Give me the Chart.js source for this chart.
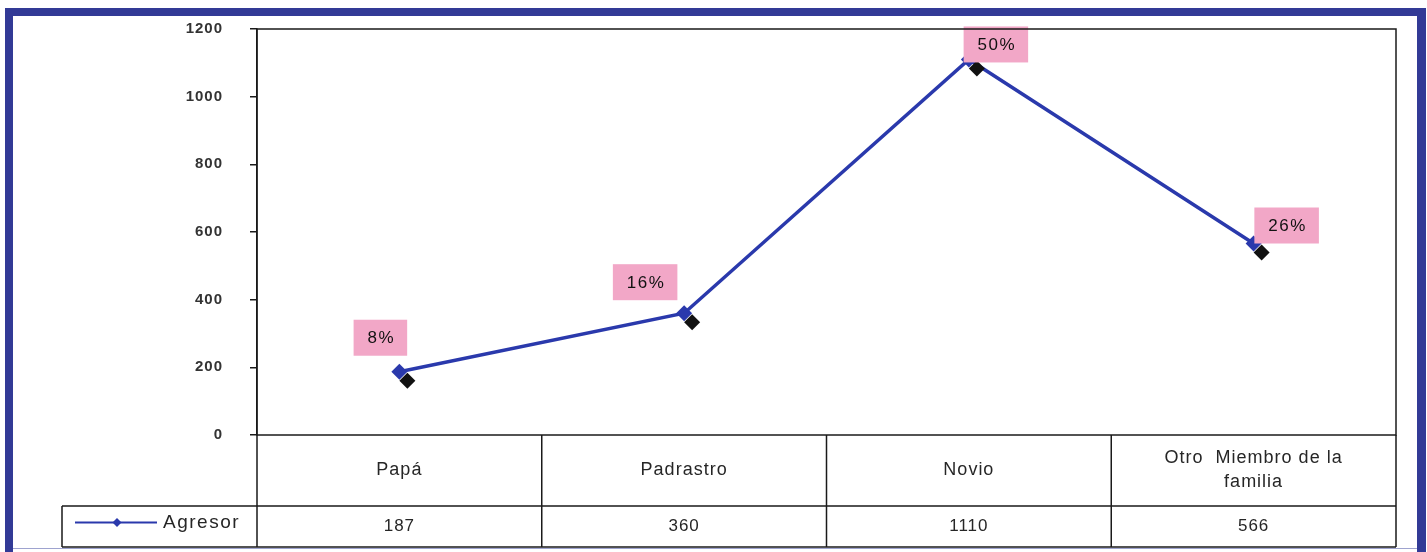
<!DOCTYPE html>
<html>
<head>
<meta charset="utf-8">
<script src="https://cdn.jsdelivr.net/npm/chart.js@4.4.0/dist/chart.umd.min.js"></script>
<style>
    html, body { margin: 0; padding: 0; background: #fff; }
    #wrap { width: 1427px; height: 552px; }
</style>
</head>
<body>
<div id="wrap"><canvas id="agresorChart" width="1427" height="552"></canvas></div>
<script>
// --- Data ---
const categories = ['Papá', 'Padrastro', 'Novio', ['Otro  Miembro de la', 'familia']];
const agresorValues = [187, 360, 1110, 566];
const percentLabels = ['8%', '16%', '50%', '26%'];
const seriesName = 'Agresor';
const yMin = 0;
const yMax = 1200;
const yStep = 200;

// --- Styles ---
const FRAME_BLUE = '#323a96';
const LINE_BLUE = '#2a39ac';
const PINK = '#f2a7c7';
const INK = '#262626';
const FONT = '"Liberation Sans", Arial, sans-serif';

// where each pink label sits relative to its point
const LABEL_OFFSETS = [[-19, -34], [-39, -31], [27, -15], [33, -18]];

const tablePlugin = {
    id: 'tablePlugin',
    beforeDraw(chart) {
        const ctx = chart.ctx;
        ctx.save();
        ctx.fillStyle = '#fff';
        ctx.fillRect(0, 0, chart.width, chart.height);
        // blue outer frame
        ctx.fillStyle = FRAME_BLUE;
        ctx.fillRect(5, 8, 1421, 8);
        ctx.fillRect(5, 8, 8, 544);
        ctx.fillRect(1417, 8, 9, 544);
        ctx.fillStyle = '#9ea3cf';
        ctx.fillRect(13, 548, 1404, 1);
        ctx.restore();
        // wider spacing for the axis tick labels
        ctx.letterSpacing = '1px';
    },
    afterDatasetsDraw(chart) {
        const ctx = chart.ctx;
        const points = chart.getDatasetMeta(0).data;
        ctx.save();
        // dark shadow markers
        ctx.fillStyle = '#111';
        points.forEach(p => {
            const cx = p.x + 8, cy = p.y + 9, r = 8;
            ctx.beginPath();
            ctx.moveTo(cx, cy - r);
            ctx.lineTo(cx + r, cy);
            ctx.lineTo(cx, cy + r);
            ctx.lineTo(cx - r, cy);
            ctx.closePath();
            ctx.fill();
        });
        // pink percentage boxes
        ctx.font = '17px ' + FONT;
        ctx.letterSpacing = '1.5px';
        ctx.textAlign = 'center';
        ctx.textBaseline = 'middle';
        points.forEach((p, i) => {
            const cx = p.x + LABEL_OFFSETS[i][0];
            const cy = p.y + LABEL_OFFSETS[i][1];
            const w = ctx.measureText(percentLabels[i]).width + 26;
            ctx.fillStyle = PINK;
            ctx.fillRect(cx - w / 2, cy - 18, w, 36);
            ctx.fillStyle = '#111';
            ctx.fillText(percentLabels[i], cx + 1, cy + 1);
        });
        ctx.restore();
    },
    afterDraw(chart) {
        const ctx = chart.ctx;
        const area = chart.chartArea;
        const xScale = chart.scales.x;
        const rowTop = area.bottom;
        const rowMid = 506;
        const rowBottom = 547;
        const legendLeft = 62;
        const step = (area.right - area.left) / categories.length;

        ctx.save();
        ctx.strokeStyle = '#1a1a1a';
        ctx.lineWidth = 1.5;
        // plot frame
        ctx.strokeRect(area.left, area.top, area.right - area.left, area.bottom - area.top);

        // data table grid
        ctx.beginPath();
        ctx.moveTo(legendLeft, rowMid); ctx.lineTo(area.right, rowMid);
        ctx.moveTo(legendLeft, rowBottom); ctx.lineTo(area.right, rowBottom);
        ctx.moveTo(legendLeft, rowMid); ctx.lineTo(legendLeft, rowBottom);
        for (let i = 0; i <= categories.length; i++) {
            const x = area.left + step * i;
            ctx.moveTo(x, rowTop); ctx.lineTo(x, rowBottom);
        }
        ctx.stroke();

        // category labels + values
        ctx.fillStyle = INK;
        ctx.textAlign = 'center';
        ctx.textBaseline = 'middle';
        categories.forEach((cat, i) => {
            const x = xScale.getPixelForValue(i);
            const lines = Array.isArray(cat) ? cat : [cat];
            const lh = 24;
            const y0 = (rowTop + rowMid) / 2 - (lines.length - 1) * lh / 2;
            ctx.font = '18px ' + FONT;
            ctx.letterSpacing = '1px';
            lines.forEach((t, j) => ctx.fillText(t, x, y0 + j * lh));
            ctx.font = '17px ' + FONT;
            ctx.fillText(String(agresorValues[i]), x, (rowMid + rowBottom) / 2);
        });

        // legend key
        const ly = (rowMid + rowBottom) / 2 - 4;
        ctx.strokeStyle = LINE_BLUE;
        ctx.lineWidth = 2;
        ctx.beginPath();
        ctx.moveTo(75, ly); ctx.lineTo(157, ly);
        ctx.stroke();
        ctx.fillStyle = LINE_BLUE;
        ctx.beginPath();
        ctx.moveTo(117, ly - 4.5); ctx.lineTo(121.5, ly);
        ctx.lineTo(117, ly + 4.5); ctx.lineTo(112.5, ly);
        ctx.closePath();
        ctx.fill();
        ctx.fillStyle = INK;
        ctx.textAlign = 'left';
        ctx.font = '19px ' + FONT;
        ctx.letterSpacing = '1.5px';
        ctx.fillText(seriesName, 163, ly);
        ctx.restore();
    }
};

const ctx = document.getElementById('agresorChart').getContext('2d');
new Chart(ctx, {
    type: 'line',
    data: {
        labels: categories,
        datasets: [{
            label: seriesName,
            data: agresorValues,
            borderColor: LINE_BLUE,
            backgroundColor: LINE_BLUE,
            borderWidth: 3.5,
            pointStyle: 'rectRot',
            pointRadius: 8,
            pointBackgroundColor: LINE_BLUE,
            pointBorderWidth: 0,
            tension: 0,
            fill: false,
            clip: false
        }]
    },
    options: {
        responsive: false,
        animation: false,
        devicePixelRatio: 1,
        layout: {
            padding: { left: 0, top: 29, right: 31, bottom: 117 }
        },
        scales: {
            x: {
                type: 'category',
                display: false,
                offset: true
            },
            y: {
                min: yMin,
                max: yMax,
                afterFit(scale) {
                    scale.width = 257;
                    scale.paddingTop = 0;
                    scale.paddingBottom = 0;
                },
                ticks: {
                    stepSize: yStep,
                    padding: 27,
                    color: '#333',
                    font: { family: FONT, size: 15, weight: 'bold' },
                    callback: v => String(v)
                },
                grid: {
                    drawOnChartArea: false,
                    drawTicks: true,
                    tickLength: 7,
                    color: '#1a1a1a',
                    lineWidth: 1.5
                },
                border: { display: true, color: '#1a1a1a', width: 1.5 }
            }
        },
        plugins: {
            legend: { display: false },
            tooltip: { enabled: false }
        }
    },
    plugins: [tablePlugin]
});
</script>
</body>
</html>
